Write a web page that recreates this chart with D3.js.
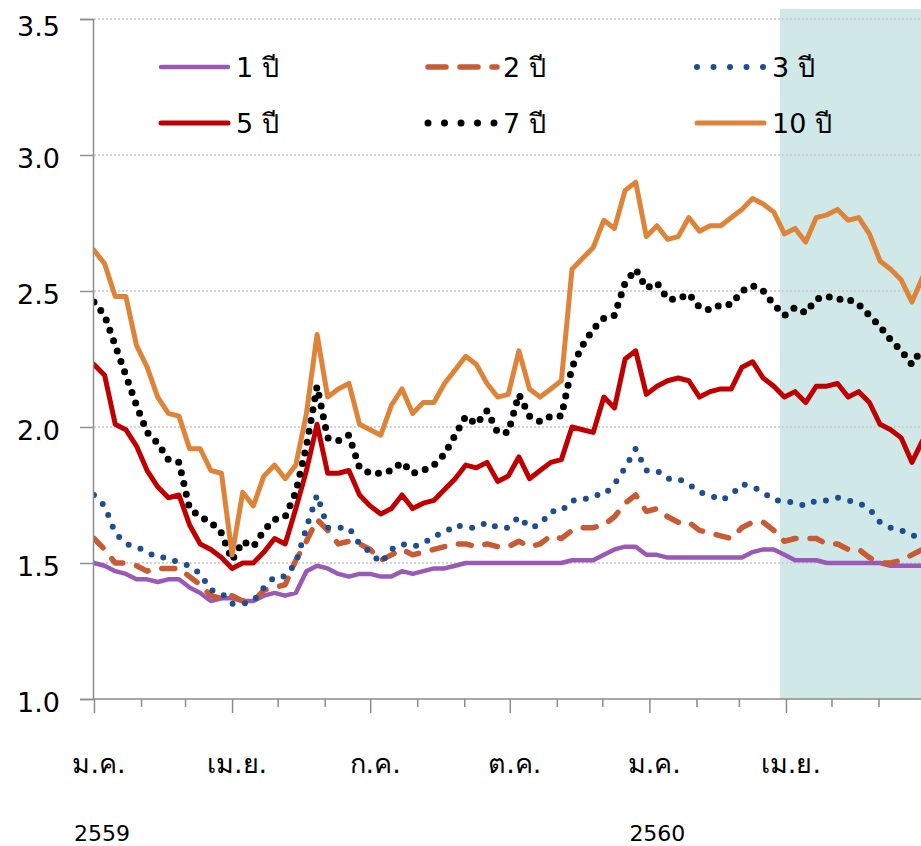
<!DOCTYPE html>
<html>
<head>
<meta charset="utf-8">
<script src="https://cdn.jsdelivr.net/npm/d3@7"></script>
<style>
  body { margin: 0; background: #fff; }
  svg { display: block; }
  text { font-family: "DejaVu Sans", "Noto Sans", sans-serif; fill: #000; }
</style>
</head>
<body>
<div id="chart"></div>
<script>
// weekly samples of the government bond yield curve (%)
const dates = [
  '2016-01-01', '2016-01-08', '2016-01-15', '2016-01-22', '2016-01-29',
  '2016-02-05', '2016-02-12', '2016-02-19', '2016-02-26',
  '2016-03-04', '2016-03-11', '2016-03-18', '2016-03-25',
  '2016-04-01', '2016-04-08', '2016-04-15', '2016-04-22', '2016-04-29',
  '2016-05-06', '2016-05-13', '2016-05-20', '2016-05-27',
  '2016-06-03', '2016-06-10', '2016-06-17', '2016-06-24',
  '2016-07-01', '2016-07-08', '2016-07-15', '2016-07-22', '2016-07-29',
  '2016-08-05', '2016-08-12', '2016-08-19', '2016-08-26',
  '2016-09-02', '2016-09-09', '2016-09-16', '2016-09-23', '2016-09-30',
  '2016-10-07', '2016-10-14', '2016-10-21', '2016-10-28',
  '2016-11-04', '2016-11-11', '2016-11-18', '2016-11-25',
  '2016-12-02', '2016-12-09', '2016-12-16', '2016-12-23', '2016-12-30',
  '2017-01-06', '2017-01-13', '2017-01-20', '2017-01-27',
  '2017-02-03', '2017-02-10', '2017-02-17', '2017-02-24',
  '2017-03-03', '2017-03-10', '2017-03-17', '2017-03-24', '2017-03-31',
  '2017-04-07', '2017-04-14', '2017-04-21', '2017-04-28',
  '2017-05-05', '2017-05-12', '2017-05-19', '2017-05-26',
  '2017-06-02', '2017-06-09', '2017-06-16', '2017-06-23', '2017-06-30',
];

const y1 = [
  1.50, 1.49, 1.47, 1.46, 1.44, 1.44, 1.43, 1.44, 1.44, 1.41, 1.39, 1.36, 1.37,
  1.37, 1.36, 1.36, 1.38, 1.39, 1.38, 1.39, 1.47, 1.49, 1.48, 1.46, 1.45, 1.46,
  1.46, 1.45, 1.45, 1.47, 1.46, 1.47, 1.48, 1.48, 1.49, 1.50, 1.50, 1.50, 1.50,
  1.50, 1.50, 1.50, 1.50, 1.50, 1.50, 1.51, 1.51, 1.51, 1.53, 1.55, 1.56, 1.56,
  1.53, 1.53, 1.52, 1.52, 1.52, 1.52, 1.52, 1.52, 1.52, 1.52, 1.54, 1.55, 1.55,
  1.53, 1.51, 1.51, 1.51, 1.50, 1.50, 1.50, 1.50, 1.50, 1.50, 1.49, 1.49, 1.49, 1.49,
];
const y2 = [
  1.59, 1.55, 1.50, 1.50, 1.49, 1.47, 1.48, 1.48, 1.48, 1.45, 1.42, 1.38, 1.37,
  1.38, 1.36, 1.36, 1.40, 1.41, 1.42, 1.51, 1.58, 1.66, 1.62, 1.57, 1.58, 1.57,
  1.55, 1.51, 1.53, 1.55, 1.53, 1.54, 1.55, 1.56, 1.57, 1.57, 1.56, 1.57, 1.56,
  1.56, 1.58, 1.56, 1.57, 1.60, 1.59, 1.62, 1.63, 1.63, 1.64, 1.67, 1.72, 1.75,
  1.69, 1.70, 1.67, 1.65, 1.65, 1.62, 1.61, 1.60, 1.59, 1.63, 1.65, 1.65, 1.62,
  1.58, 1.59, 1.59, 1.59, 1.57, 1.57, 1.55, 1.55, 1.52, 1.50, 1.50, 1.51, 1.53, 1.55,
];
const y3 = [
  1.75, 1.71, 1.61, 1.57, 1.56, 1.54, 1.52, 1.52, 1.50, 1.49, 1.46, 1.40, 1.39,
  1.35, 1.35, 1.36, 1.41, 1.45, 1.45, 1.50, 1.63, 1.75, 1.63, 1.63, 1.63, 1.57,
  1.54, 1.50, 1.55, 1.57, 1.56, 1.57, 1.60, 1.61, 1.64, 1.63, 1.63, 1.65, 1.63,
  1.63, 1.67, 1.63, 1.64, 1.69, 1.69, 1.73, 1.73, 1.75, 1.75, 1.79, 1.85, 1.92,
  1.84, 1.84, 1.81, 1.81, 1.79, 1.76, 1.75, 1.73, 1.75, 1.79, 1.78, 1.76, 1.73,
  1.73, 1.72, 1.71, 1.73, 1.73, 1.74, 1.73, 1.72, 1.70, 1.65, 1.63, 1.62, 1.60, 1.60,
];
const y5 = [
  2.23, 2.19, 2.01, 1.99, 1.93, 1.84, 1.78, 1.74, 1.75, 1.64, 1.57, 1.55, 1.52,
  1.48, 1.50, 1.50, 1.54, 1.59, 1.57, 1.70, 1.84, 2.01, 1.83, 1.83, 1.84, 1.75,
  1.71, 1.68, 1.70, 1.75, 1.70, 1.72, 1.73, 1.77, 1.81, 1.86, 1.85, 1.87, 1.80,
  1.82, 1.89, 1.81, 1.84, 1.87, 1.88, 2.00, 1.99, 1.98, 2.11, 2.07, 2.25, 2.28,
  2.12, 2.15, 2.17, 2.18, 2.17, 2.11, 2.13, 2.14, 2.14, 2.22, 2.24, 2.18, 2.15,
  2.11, 2.13, 2.09, 2.15, 2.15, 2.16, 2.11, 2.13, 2.09, 2.01, 1.99, 1.96, 1.87, 1.95,
];
const y7 = [
  2.46, 2.41, 2.30, 2.19, 2.08, 1.98, 1.94, 1.88, 1.87, 1.70, 1.67, 1.65, 1.61,
  1.51, 1.58, 1.56, 1.62, 1.66, 1.67, 1.76, 1.93, 2.15, 1.96, 1.95, 1.97, 1.85,
  1.83, 1.83, 1.84, 1.87, 1.83, 1.84, 1.86, 1.90, 1.97, 2.04, 2.01, 2.06, 1.98,
  1.98, 2.12, 2.04, 2.02, 2.04, 2.04, 2.22, 2.30, 2.36, 2.40, 2.41, 2.53, 2.58,
  2.51, 2.53, 2.47, 2.47, 2.49, 2.44, 2.43, 2.45, 2.45, 2.50, 2.52, 2.50, 2.45,
  2.41, 2.44, 2.42, 2.47, 2.48, 2.47, 2.47, 2.45, 2.41, 2.37, 2.32, 2.28, 2.23, 2.29,
];
const y10 = [
  2.65, 2.60, 2.48, 2.48, 2.30, 2.22, 2.11, 2.05, 2.04, 1.92, 1.92, 1.84, 1.83,
  1.53, 1.76, 1.71, 1.82, 1.86, 1.81, 1.86, 2.05, 2.34, 2.11, 2.14, 2.16, 2.01,
  1.99, 1.97, 2.08, 2.14, 2.05, 2.09, 2.09, 2.16, 2.21, 2.26, 2.23, 2.16, 2.11,
  2.12, 2.28, 2.14, 2.11, 2.14, 2.17, 2.58, 2.62, 2.66, 2.76, 2.73, 2.87, 2.90,
  2.70, 2.74, 2.69, 2.70, 2.77, 2.72, 2.74, 2.74, 2.77, 2.80, 2.84, 2.82, 2.79,
  2.71, 2.73, 2.68, 2.77, 2.78, 2.80, 2.76, 2.77, 2.71, 2.61, 2.58, 2.54, 2.46, 2.55,
];

const seriesNames = ['1 ปี', '2 ปี', '3 ปี', '5 ปี', '7 ปี', '10 ปี'];
const yTicks = [1.0, 1.5, 2.0, 2.5, 3.0, 3.5];
const monthTickDates = ['2016-01-01', '2016-04-01', '2016-07-01', '2016-10-01', '2017-01-01', '2017-04-01'];
const monthLabels = ['ม.ค.', 'เม.ย.', 'ก.ค.', 'ต.ค.', 'ม.ค.', 'เม.ย.'];
const yearTickDates = ['2016-01-01', '2017-01-01'];
const yearLabels = ['2559', '2560'];
const shadeStart = '2017-03-28';

const parse = d3.utcParse('%Y-%m-%d');
const width = 921;
const height = 846;
const margin = { top: 19, left: 93, bottom: 147 };

const x = d3.scaleUtc()
  .domain([parse('2016-01-01'), parse('2017-06-29')])
  .range([margin.left + 1, width]);

const y = d3.scaleLinear()
  .domain([1, 3.5])
  .range([height - margin.bottom, margin.top]);

const svg = d3.select('#chart').append('svg')
  .attr('width', width)
  .attr('height', height);

// shaded latest period
svg.append('rect')
  .attr('x', x(parse(shadeStart)))
  .attr('y', 9)
  .attr('width', width - x(parse(shadeStart)))
  .attr('height', y(1) - 9)
  .attr('fill', '#d0e8e8');

// grid lines
svg.append('g')
  .selectAll('line')
  .data(yTicks.filter((d) => d > 1))
  .enter().append('line')
  .attr('x1', margin.left + 1)
  .attr('x2', width)
  .attr('y1', (d) => y(d))
  .attr('y2', (d) => y(d))
  .style('stroke', '#c8c8c8')
  .style('stroke-width', 1.5)
  .style('stroke-dasharray', '2 2');

const styles = [
  { color: '#9b59b6', width: 4.5, dash: null },
  { color: '#c85a36', width: 5.5, dash: '13 14' },
  { color: '#1f4e8c', width: 6, dash: '0 12.5' },
  { color: '#c00000', width: 5, dash: null },
  { color: '#000000', width: 7, dash: '0 11' },
  { color: '#dd8439', width: 5, dash: null },
];

const allSeries = [y1, y2, y3, y5, y7, y10];

const line = d3.line()
  .x((d, i) => x(parse(dates[i])))
  .y((d) => y(d));

svg.append('defs').append('clipPath')
  .attr('id', 'plot')
  .append('rect')
  .attr('x', margin.left)
  .attr('y', 0)
  .attr('width', width - margin.left)
  .attr('height', y(1));

svg.append('g')
  .attr('clip-path', 'url(#plot)')
  .selectAll('path')
  .data(allSeries)
  .enter().append('path')
  .attr('d', (d) => line(d))
  .attr('fill', 'none')
  .style('stroke', (d, i) => styles[i].color)
  .style('stroke-width', (d, i) => styles[i].width)
  .style('stroke-dasharray', (d, i) => styles[i].dash)
  .style('stroke-linecap', 'round')
  .style('stroke-linejoin', 'round');

// y axis
const yAxis = svg.append('g')
  .attr('transform', `translate(${margin.left},0)`)
  .call(d3.axisLeft(y).tickValues(yTicks).tickSize(13).tickFormat(d3.format('.1f')));
yAxis.select('.domain').style('stroke', '#8c8c8c').style('stroke-width', 1.5);
yAxis.selectAll('.tick line').style('stroke', '#8c8c8c').style('stroke-width', 1.5);
yAxis.selectAll('.tick text')
  .attr('x', -33)
  .attr('dy', '0.45em')
  .style('font-size', '27px')
  .style('fill', '#000')
  .attr('font-family', 'DejaVu Sans');
yAxis.selectAll('.tick').filter((d) => d === 3.5).select('text').attr('dy', '0.62em');

// x axis with monthly ticks, quarters longer
const xAxis = svg.append('g')
  .attr('transform', `translate(0,${y(1)})`)
  .call(d3.axisBottom(x).ticks(d3.utcMonth.every(1)).tickSize(8).tickFormat(''));
xAxis.select('.domain').style('stroke', '#8c8c8c').style('stroke-width', 1.5)
  .attr('d', `M${margin.left},0H${width}`);
xAxis.selectAll('.tick line').style('stroke', '#8c8c8c').style('stroke-width', 1.5)
  .attr('y2', (d) => (d.getUTCMonth() % 3 === 0 ? 14 : 8));

svg.append('g')
  .selectAll('text')
  .data(monthTickDates)
  .enter().append('text')
  .attr('x', (d) => x(parse(d)) + 5)
  .attr('y', 773)
  .attr('text-anchor', 'middle')
  .style('font-size', '27px')
  .text((d, i) => monthLabels[i]);

svg.append('g')
  .selectAll('text')
  .data(yearTickDates)
  .enter().append('text')
  .attr('x', (d) => x(parse(d)) + 8)
  .attr('y', 841)
  .attr('text-anchor', 'middle')
  .style('font-size', '22px')
  .text((d, i) => yearLabels[i]);

// legend
const legendCols = [158, 425, 694];
const legendRows = [67, 123];
const legend = svg.append('g')
  .selectAll('g')
  .data(seriesNames)
  .enter().append('g')
  .attr('transform', (d, i) => `translate(${legendCols[i % 3]},${legendRows[Math.floor(i / 3)]})`);

legend.append('line')
  .attr('x1', 3)
  .attr('x2', (d, i) => (i === 1 ? 72 : 70))
  .attr('y1', 0)
  .attr('y2', 0)
  .style('stroke', (d, i) => styles[i].color)
  .style('stroke-width', (d, i) => styles[i].width)
  .style('stroke-linecap', 'round')
  .style('stroke-dasharray', (d, i) => {
    if (i === 1) return '18 14';
    if (i === 2 || i === 4) return '0 16.5';
    return null;
  });

legend.append('text')
  .attr('x', 78)
  .attr('y', 10)
  .style('font-size', '27px')
  .text((d) => d);
</script>
</body>
</html>
